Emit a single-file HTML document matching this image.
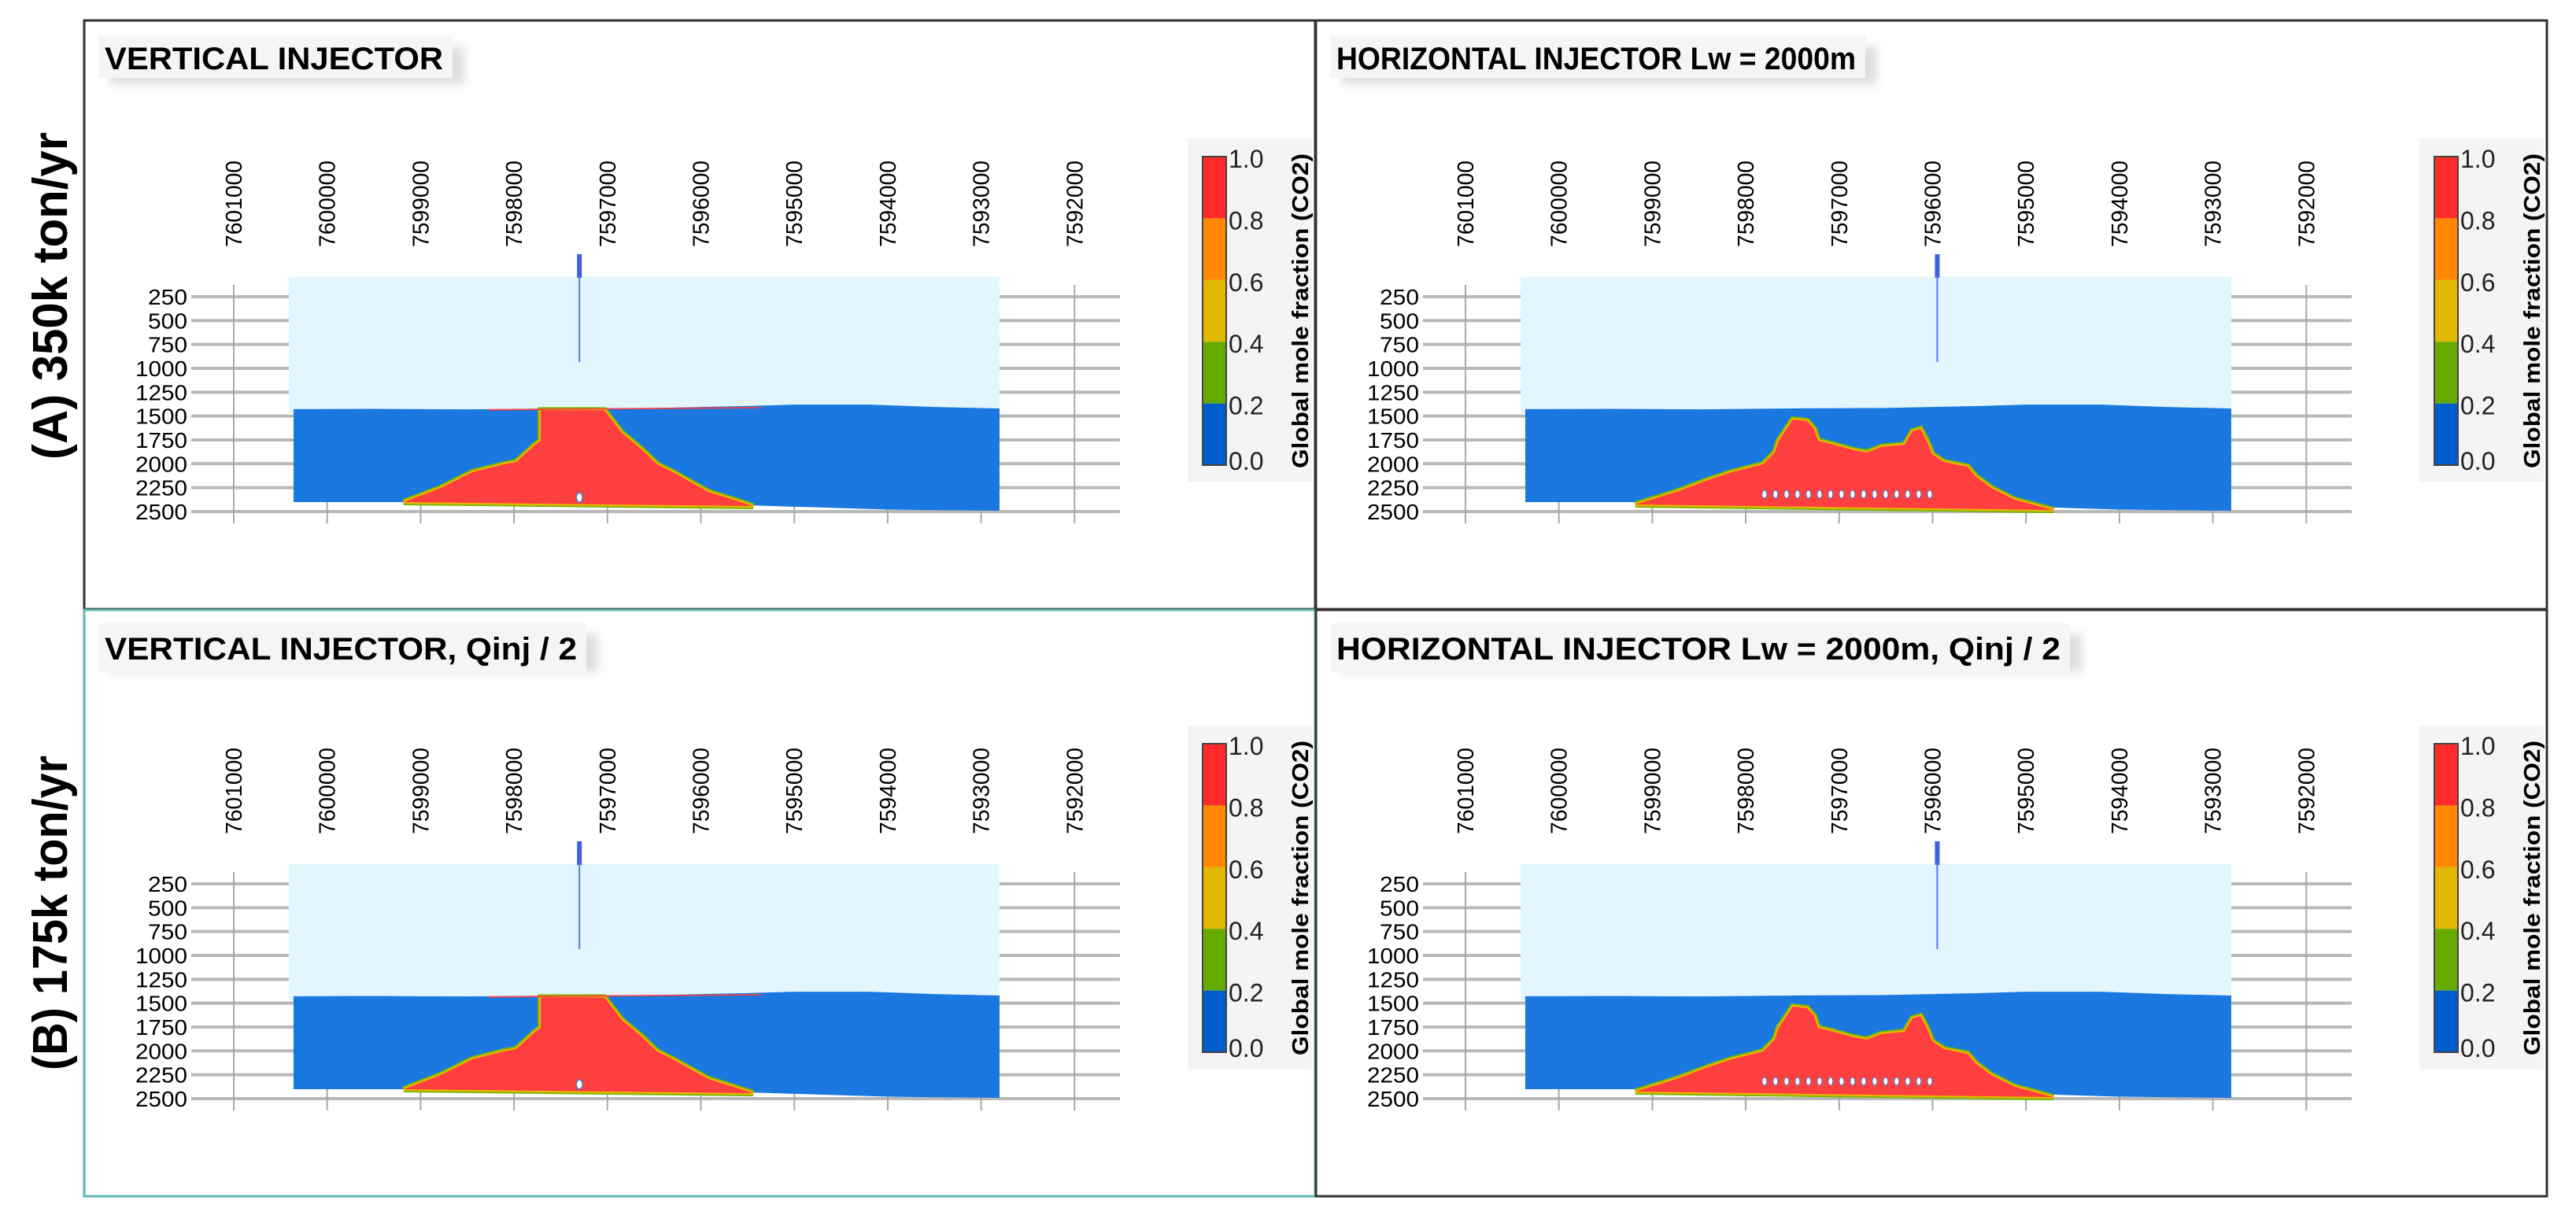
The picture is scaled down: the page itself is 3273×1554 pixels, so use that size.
<!DOCTYPE html>
<html><head><meta charset="utf-8"><style>
html,body{margin:0;padding:0;background:#fff;}
svg{display:block;}
text{font-family:"Liberation Sans",sans-serif;}
</style></head><body>
<svg id="fig" width="3273" height="1554" viewBox="0 0 3273 1554" xmlns="http://www.w3.org/2000/svg">
<defs><filter id="sh" x="-5%" y="-20%" width="115%" height="160%"><feGaussianBlur stdDeviation="6"/></filter></defs>
<text transform="translate(85,376) rotate(-90)" text-anchor="middle" font-size="62" font-weight="bold" textLength="416" lengthAdjust="spacingAndGlyphs">(A) 350k ton/yr</text>
<text transform="translate(85,1160) rotate(-90)" text-anchor="middle" font-size="62" font-weight="bold" textLength="400" lengthAdjust="spacingAndGlyphs">(B) 175k ton/yr</text>
</svg>
<script>
const xTickValues=[7601000,7600000,7599000,7598000,7597000,7596000,7595000,7594000,7593000,7592000];
const yTickValues=[250,500,750,1000,1250,1500,1750,2000,2250,2500];
const colorbarValues=[0.0,0.2,0.4,0.6,0.8,1.0];
const colorbarLabels=["0.0","0.2","0.4","0.6","0.8","1.0"];
const colorbarColors=["#005ecc","#66aa00","#e0b800","#ff8800","#ff2a2a"];
const modelEastLeft=7600360, modelEastRight=7592803, modelTopDepth=40;
const resTopE=[7600360,7599500,7598500,7597500,7596500,7595500,7595000,7594200,7593500,7592803];
const resTopD=[1428,1425,1430,1420,1415,1395,1380,1380,1405,1420];
const resBotE=[7592803,7594000,7595500,7597600,7600360];
const resBotD=[2492,2480,2434,2401,2401];
const plumeVertE=[7599180,7598784,7598447,7598110,7597975,7597773,7597714,7597714,7597032,7596847,7596644,7596467,7596299,7595920,7595440];
const plumeVertD=[2401,2253,2088,2006,1981,1800,1758,1440,1440,1676,1841,2006,2088,2294,2443];
const sliverE=[7598279,7595355,7595355,7598279];
const sliverD=[1428,1405,1418,1442];
const plumeHorE=[7599180,7598742,7598405,7598152,7597815,7597689,7597647,7597495,7597344,7597268,7597226,7597057,7596847,7596703,7596552,7596299,7596215,7596130,7596063,7596004,7595878,7595625,7595541,7595372,7595119,7594706];
const plumeHorD=[2426,2294,2171,2088,2006,1882,1758,1536,1552,1635,1758,1800,1857,1882,1824,1800,1660,1636,1758,1900,1981,2030,2129,2253,2377,2484];
const wellVertE=7597300, wellHorE=7595950, horWellStartE=7597800;

const svg=document.getElementById('fig');
const NS='http://www.w3.org/2000/svg';
function mk(tag,attrs,parent){const e=document.createElementNS(NS,tag);for(const k in attrs)e.setAttribute(k,attrs[k]);(parent||svg).appendChild(e);return e;}

function drawPanel(ox,oy,title,titleW,border,pE,pD,wellE,horizontal,name){
  const g=mk('g',{});
  
  
  const X=e=>ox+297+(7601000-e)/1000*118.7;
  const Y=d=>oy+377+(d-250)/250*30.33;
  const b=mk('rect',{x:ox+107,y:oy+26+(oy?3:0),width:1564,height:oy?745:748,fill:'none',stroke:border,'stroke-width':3},g);
  
  
  const ty=oy?oy+46:45;
  mk('rect',{x:ox+140,y:ty+14,width:titleW,height:48,fill:'#ddd',filter:'url(#sh)'},g);
  mk('rect',{x:ox+125,y:ty,width:titleW,height:oy?62:54,fill:'#f5f5f5'},g);
  const t=mk('text',{x:ox+133,y:ty+(oy?46:43),'font-size':40,'font-weight':'bold',textLength:titleW-20,lengthAdjust:'spacingAndGlyphs'},g);
  t.textContent=title;
  
  
  yTickValues.forEach(v=>{
    const l=mk('line',{x1:ox+243,x2:ox+1423,y1:Y(v),y2:Y(v),stroke:'#b8b8b8','stroke-width':4},g);
    
    
    const tx=mk('text',{x:ox+238,y:Y(v)+10,'text-anchor':'end','font-size':28,textLength:v>=1000?66:50,lengthAdjust:'spacingAndGlyphs'},g);
    tx.textContent=v;
    
    
  });
  xTickValues.forEach(v=>{
    const l=mk('line',{x1:X(v),x2:X(v),y1:oy+362,y2:oy+665,stroke:'#a8a8a8','stroke-width':2},g);
    
    
    const tx=mk('text',{transform:`translate(${X(v)+10},${oy+314}) rotate(-90)`,'font-size':29,textLength:110,lengthAdjust:'spacingAndGlyphs'},g);
    tx.textContent=v;
    
    
  });
  const cap=mk('rect',{x:X(7600410),y:Y(modelTopDepth),width:X(modelEastRight)-X(7600410),height:Y(1470)-Y(modelTopDepth),fill:'#e3f6fd'},g);
  
  
  let pts=resTopE.map((e,i)=>X(e)+','+Y(resTopD[i])).concat(resBotE.map((e,i)=>X(e)+','+Y(resBotD[i])));
  const res=mk('polygon',{points:pts.join(' '),fill:'#1a78e0'},g);
  
  
  pts=pE.map((e,i)=>X(e)+','+Y(pD[i]));
  mk('polygon',{points:pts.join(' '),fill:'none',stroke:'#7cb800','stroke-width':8,'stroke-linejoin':'miter'},g);
  mk('polygon',{points:pts.join(' '),fill:'none',stroke:'#f0b400','stroke-width':4},g);
  const pl=mk('polygon',{points:pts.join(' '),fill:'#fe3f3f'},g);
  
  
  if(!horizontal){
    const sp=sliverE.map((e,i)=>X(e)+','+Y(sliverD[i]));
    const s=mk('polygon',{points:sp.join(' '),fill:'#fe3f3f'},g);
    
    
  }
  const wx=X(wellE);
  mk('rect',{x:wx-3,y:oy+323,width:6,height:30,fill:'#3d5fe0'},g);
  const w=mk('line',{x1:wx,x2:wx,y1:oy+350,y2:oy+460,stroke:'#5577ee','stroke-width':2},g);
  
  
  if(horizontal){
    const x0=X(horWellStartE);
    for(let x=x0;x<=wx;x+=14){mk('ellipse',{cx:x,cy:oy+628,rx:3,ry:5,fill:'#fff',stroke:'#4477cc','stroke-width':1},g);}
  } else {
    mk('ellipse',{cx:wx,cy:oy+632,rx:4,ry:6,fill:'#fff',stroke:'#4477cc','stroke-width':1.5},g);
  }
  mk('rect',{x:ox+1509,y:oy+176,width:158,height:436,fill:'#f4f4f4'},g);
  const cb=(v)=>oy+591-(v)*392;
  colorbarColors.forEach((c,i)=>{
    const r=mk('rect',{x:ox+1528,y:cb(colorbarValues[i+1]),width:30,height:cb(colorbarValues[i])-cb(colorbarValues[i+1]),fill:c},g);
    
    
  });
  mk('rect',{x:ox+1528,y:oy+199,width:30,height:392,fill:'none',stroke:'#444','stroke-width':2},g);
  colorbarValues.forEach((v,i)=>{
    const tx=mk('text',{x:ox+1561,y:cb(v)+(i===0?6:14),'font-size':32,fill:'#222'},g);
    tx.textContent=colorbarLabels[i];
    
    
  });
  const ct=mk('text',{transform:`translate(${ox+1662},${oy+395}) rotate(-90)`,'text-anchor':'middle','font-size':29,'font-weight':'bold',textLength:400,lengthAdjust:'spacingAndGlyphs'},g);
  ct.textContent='Global mole fraction (CO2)';
  
  
}
drawPanel(0,0,'VERTICAL INJECTOR',450,'#333',plumeVertE,plumeVertD,wellVertE,false,'panel-vertical-350k');
drawPanel(1565,0,'HORIZONTAL INJECTOR Lw = 2000m',680,'#333',plumeHorE,plumeHorD,wellHorE,true,'panel-horizontal-350k');
drawPanel(0,746,'VERTICAL INJECTOR, Qinj / 2',620,'#5fb8b2',plumeVertE,plumeVertD,wellVertE,false,'panel-vertical-175k');
drawPanel(1565,746,'HORIZONTAL INJECTOR Lw = 2000m, Qinj / 2',940,'#333',plumeHorE,plumeHorD,wellHorE,true,'panel-horizontal-175k');
</script>
</body></html>
